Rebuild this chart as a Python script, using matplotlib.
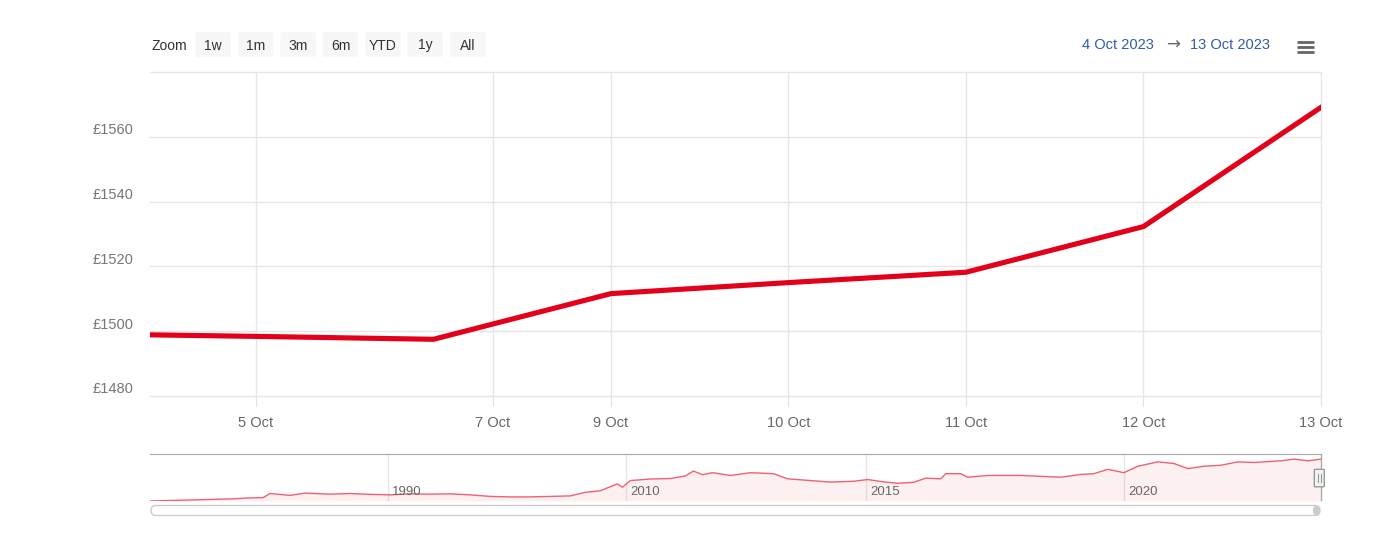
import numpy as np
import matplotlib
matplotlib.use("Agg")
import matplotlib.pyplot as plt
from matplotlib.patches import FancyBboxPatch
from matplotlib.transforms import ScaledTranslation

plt.rcParams['font.family'] = ['Liberation Sans', 'DejaVu Sans']

# price data (ordinal axis: one slot per trading day)
days = ['2023-10-04', '2023-10-05', '2023-10-06', '2023-10-09', '2023-10-10',
        '2023-10-11', '2023-10-12', '2023-10-13']
prices = [1499.2, 1498.4, 1497.5, 1511.6, 1515.0, 1518.2, 1532.3, 1569.1]

tick_days = ['2023-10-05', '2023-10-07', '2023-10-09', '2023-10-10',
             '2023-10-11', '2023-10-12', '2023-10-13']
tick_labels = ['5 Oct', '7 Oct', '9 Oct', '10 Oct', '11 Oct', '12 Oct', '13 Oct']

y_ticks = [1480, 1500, 1520, 1540, 1560, 1580]

# navigator history (ordinal slot, price)
nav_idx = [0, 2, 4, 6, 8, 10, 11.3, 12, 14, 15.5, 18, 20, 22, 24, 26, 28, 30,
           32, 34, 36, 38, 40, 42, 43.5, 45, 46, 46.7, 47.2, 48, 50, 52, 53.5,
           54.3, 55.2, 56.2, 58, 60, 62.3, 63.7, 66, 68, 70.3, 71.7, 73.5, 74.7,
           76.3, 77.5, 79, 79.5, 81, 81.7, 83.7, 87, 91, 93, 94.3, 95.7, 97.3,
           98.7, 100.7, 102.3, 103.7, 105.3, 107, 108.7, 110.3, 113, 114.3,
           115.7, 117]
nav_price = [200, 217, 233, 250, 267, 300, 310, 444, 384, 457, 424, 444, 417,
             400, 434, 424, 434, 400, 350, 334, 334, 350, 367, 484, 534, 668,
             758, 651, 868, 918, 935, 1018, 1179, 1058, 1125, 1035, 1125, 1092,
             925, 868, 818, 845, 901, 818, 778, 811, 945, 925, 1092, 1092, 978,
             1035, 1035, 978, 1068, 1092, 1235, 1125, 1336, 1479, 1426, 1259,
             1336, 1369, 1479, 1459, 1513, 1569, 1513, 1569]
nav_years = ['1990', '2010', '2015', '2020']
nav_year_idx = [23.77, 47.57, 71.57, 97.33]

W, H = 1387, 542
fig = plt.figure(figsize=(W / 100, H / 100), dpi=100)


def box(x0, y0, x1, y1):
    return [x0 / W, 1 - y1 / H, (x1 - x0) / W, (y1 - y0) / H]


# main chart
ax = fig.add_axes(box(150, 72, 1321, 396))
day_num = np.array(days, dtype='datetime64[D]').astype(float)
idx = np.arange(len(days))
ax.plot(idx, prices, color='#e2001a', lw=3.7, solid_joinstyle='round', zorder=3)

tick_pos = np.interp(np.array(tick_days, dtype='datetime64[D]').astype(float), day_num, idx)
ax.set_xticks(tick_pos)
ax.set_xticklabels(tick_labels)
ax.set_xlim(0.403, 7)
ax.set_ylim(1480, 1580)
ax.set_yticks(y_ticks)
ax.set_yticklabels(['£%d' % v for v in y_ticks[:-1]] + [''])
ax.grid(True, color='#e6e6e6', lw=1)
for gl in ax.get_xgridlines() + ax.get_ygridlines():
    gl.set_clip_on(False)
for s in ax.spines.values():
    s.set_visible(False)
ax.tick_params(axis='x', length=7.5, color='#e0e0e0', pad=7, labelsize=10.5, labelcolor='#666666')
ax.tick_params(axis='y', length=0, pad=12, labelsize=10.5, labelcolor='#777777')
for lbl in ax.get_yticklabels():
    lbl.set_transform(lbl.get_transform() + ScaledTranslation(0, 0.08, fig.dpi_scale_trans))

# navigator
nav = fig.add_axes(box(150, 454, 1321, 501))
nav.fill_between(nav_idx, nav_price, 200, color='#e2001a', alpha=0.06, lw=0)
nav.plot(nav_idx, nav_price, color='#f06070', lw=1)
nav.set_xlim(0, 117)
nav.set_ylim(200, 1736)
for xi, yr in zip(nav_year_idx, nav_years):
    nav.axvline(xi, color='#e6e6e6', lw=1, zorder=0)
    nav.text(xi + 0.4, 494, yr, fontsize=9.5, color='#666666', va='center', ha='left')
nav.set_xticks([])
nav.set_yticks([])
for k, s in nav.spines.items():
    s.set_visible(k == 'top')
nav.spines['top'].set_color('#aaaaaa')

# overlay in pixel units for the chrome
ov = fig.add_axes([0, 0, 1, 1])
ov.set_xlim(0, W)
ov.set_ylim(H, 0)
ov.axis('off')
ov.patch.set_visible(False)

ov.text(151, 45.5, 'Zoom', fontsize=10, color='#333333', va='center', ha='left')
buttons = ['1w', '1m', '3m', '6m', 'YTD', '1y', 'All']
for i, b in enumerate(buttons):
    x0 = 195.5 + i * 42.4
    ov.add_patch(FancyBboxPatch((x0 + 2, 34), 31.5, 21, boxstyle='round,pad=2',
                                fc='#f7f7f7', ec='none'))
    ov.text(x0 + 17.8, 45.5, b, fontsize=10, color='#333333', va='center', ha='center')

ov.text(1154, 45, '4 Oct 2023', fontsize=10.5, color='#335cad', va='center', ha='right')
ov.text(1172.5, 45, '→', fontsize=12, color='#666666', va='center', ha='center',
        family='DejaVu Sans')
ov.text(1190, 45, '13 Oct 2023', fontsize=10.5, color='#335cad', va='center', ha='left')
for yy in [42.3, 47.3, 52.3]:
    ov.plot([1297, 1314], [yy, yy], color='#666666', lw=2, solid_capstyle='butt')

# navigator outline and handle
ov.plot([1320.5, 1320.5], [454, 500], color='#aaaaaa', lw=1)
ov.add_patch(FancyBboxPatch((1315.3, 470.3), 8, 15.5, boxstyle='round,pad=1',
                            fc='#f2f2f2', ec='#999999', lw=1, zorder=5))
for hx in [1318.3, 1320.8]:
    ov.plot([hx, hx], [474, 482], color='#999999', lw=0.8, zorder=6)

# scrollbar
ov.add_patch(FancyBboxPatch((151, 505.5), 1169, 10, boxstyle='round,pad=0,rounding_size=5',
                            fc='white', ec='#cccccc', lw=1))
ov.add_patch(FancyBboxPatch((1313, 506), 7, 9, boxstyle='round,pad=0,rounding_size=3.5',
                            fc='#cccccc', ec='none'))

fig.savefig('out.png', dpi=100)
